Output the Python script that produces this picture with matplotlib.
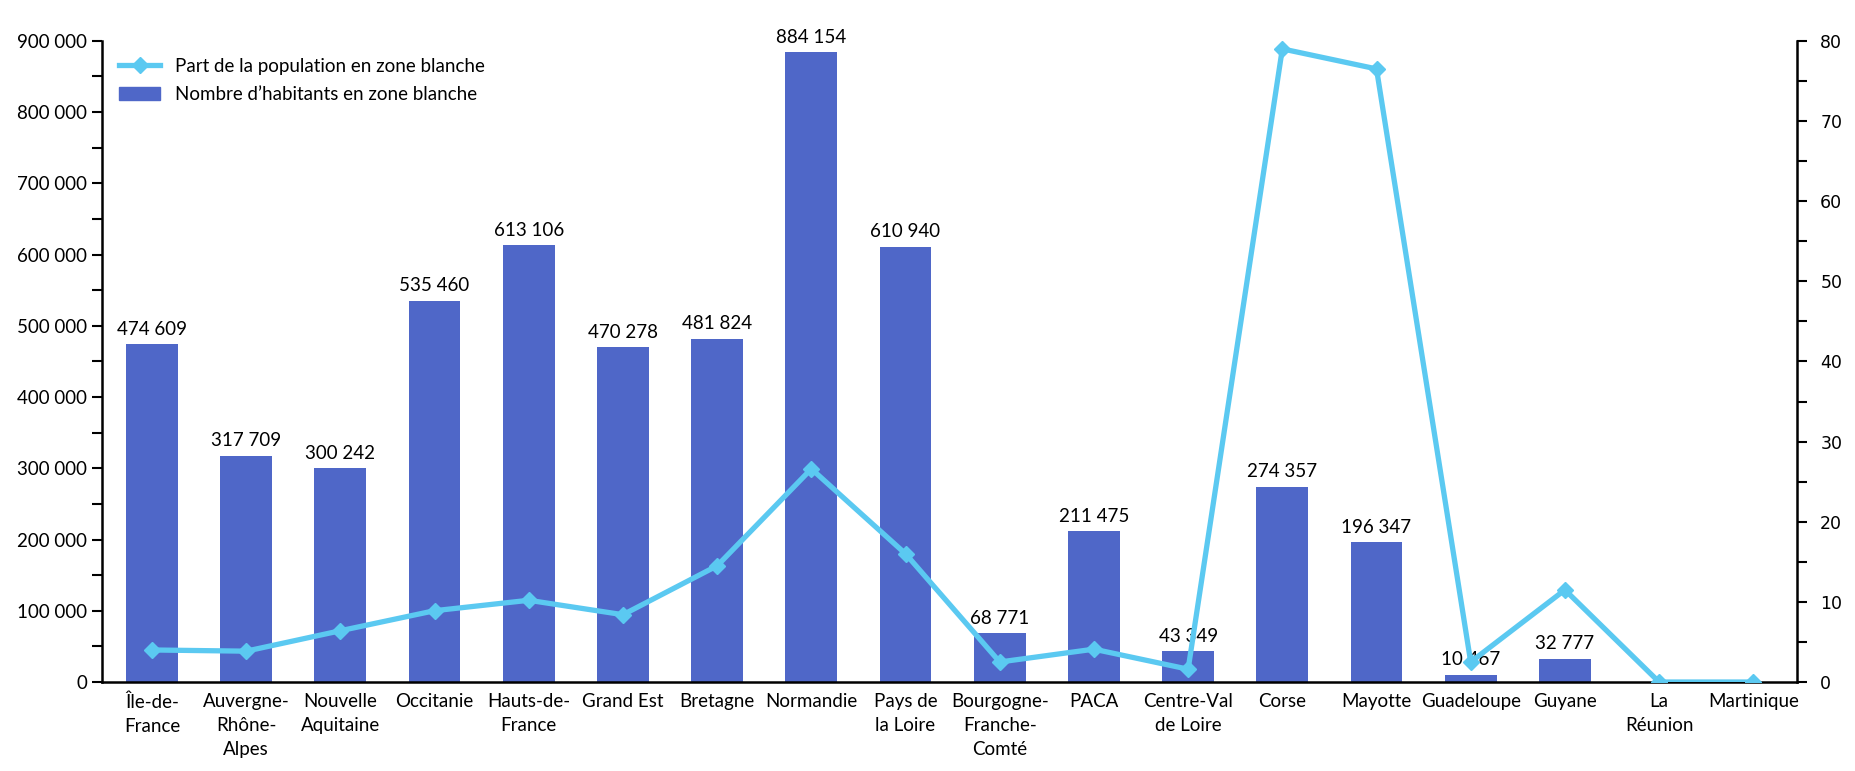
import numpy as np
import matplotlib.pyplot as plt
from matplotlib.ticker import FuncFormatter, MultipleLocator
from matplotlib.lines import Line2D
from matplotlib.patches import Patch

regions = ["Île-de-\nFrance", "Auvergne-\nRhône-\nAlpes", "Nouvelle\nAquitaine", "Occitanie",
           "Hauts-de-\nFrance", "Grand Est", "Bretagne", "Normandie", "Pays de\nla Loire",
           "Bourgogne-\nFranche-\nComté", "PACA", "Centre-Val\nde Loire", "Corse", "Mayotte",
           "Guadeloupe", "Guyane", "La\nRéunion", "Martinique"]
habitants = [474609, 317709, 300242, 535460, 613106, 470278, 481824, 884154, 610940,
             68771, 211475, 43349, 274357, 196347, 10467, 32777, 0, 0]
part = [4.0, 3.85, 6.4, 8.9, 10.2, 8.4, 14.5, 26.6, 16.0,
        2.5, 4.1, 1.6, 79.0, 76.5, 2.5, 11.5, 0.0, 0.0]

bar_color = "#4F67C8"
line_color = "#5BC9F1"
plt.rcParams['font.family'] = ['Lato', 'DejaVu Sans']

fig = plt.figure(figsize=(18.56, 7.71), dpi=100)
ax = fig.add_axes([0.055, 0.1154, 0.913, 0.8316])
x = np.arange(len(regions))

ax.bar(x, habitants, width=0.55, color=bar_color, zorder=2)
for xi, v in zip(x, habitants):
    if v > 0:
        ax.text(xi, v + 9000, f"{v:,}".replace(",", " "), ha="center", va="bottom",
                fontsize=13.5, color="black")

ax.set_xlim(-0.53, len(regions) - 0.54)
ax.set_ylim(0, 900000)
ax.yaxis.set_major_locator(MultipleLocator(100000))
ax.yaxis.set_minor_locator(MultipleLocator(50000))
ax.yaxis.set_major_formatter(FuncFormatter(lambda v, p: f"{int(v):,}".replace(",", " ")))
ax.set_xticks(x)
ax.set_xticklabels(regions, fontsize=13.5, linespacing=1.5)
ax.tick_params(axis="x", length=0, pad=8)
ax.tick_params(axis="y", which="major", length=7, width=1.5, labelsize=13.5)
ax.tick_params(axis="y", which="minor", length=7, width=1.5)
for s in ["top", "right"]:
    ax.spines[s].set_visible(False)
for s in ["left", "bottom"]:
    ax.spines[s].set_linewidth(1.8)

ax2 = ax.twinx()
ax2.plot(x, part, color=line_color, lw=3.8, marker="D", markersize=8, zorder=3)
ax2.set_ylim(0, 80)
ax2.yaxis.set_major_locator(MultipleLocator(10))
ax2.yaxis.set_minor_locator(MultipleLocator(5))
ax2.tick_params(axis="y", which="major", length=7, width=1.5, labelsize=13.5, pad=10)
ax2.tick_params(axis="y", which="minor", length=7, width=1.5)
for lab in ax2.get_yticklabels():
    lab.set_family("DejaVu Sans")
    lab.set_fontsize(12.5)
ax2.spines["top"].set_visible(False)
ax2.spines["left"].set_visible(False)
ax2.spines["bottom"].set_visible(False)
ax2.spines["right"].set_linewidth(1.8)

handles = [Line2D([0], [0], color=line_color, lw=3.8, marker="D", markersize=8),
           Patch(color=bar_color)]
ax2.legend(handles, ["Part de la population en zone blanche", "Nombre d’habitants en zone blanche"],
           loc="upper left", bbox_to_anchor=(0.0, 1.0), frameon=False, fontsize=13.5,
           handlelength=2.2, labelspacing=0.6)

plt.savefig("out.png", dpi=100)
